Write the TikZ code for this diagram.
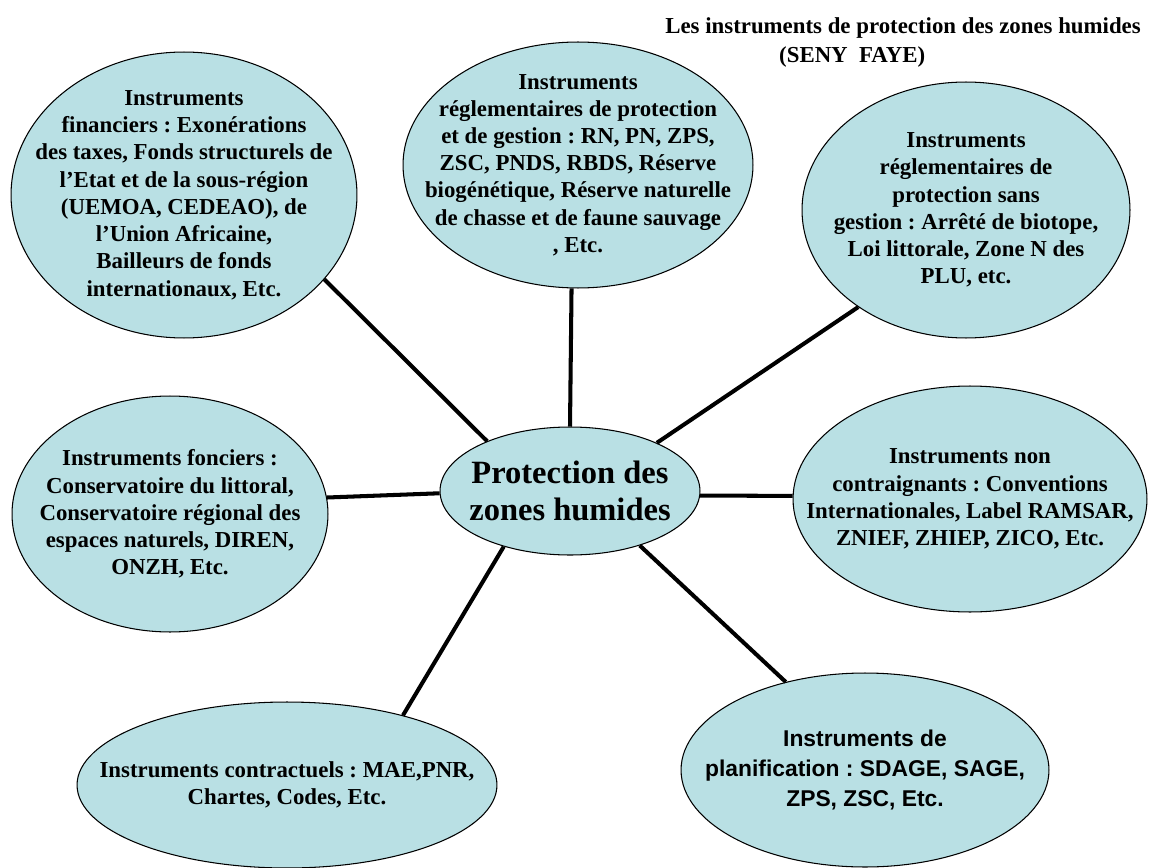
\documentclass[tikz,border=0pt]{standalone}
\usepackage{fontspec}
\setmainfont{Liberation Serif}
\setsansfont{Liberation Sans}
\usetikzlibrary{shapes.geometric}
\frenchspacing
\definecolor{bubblefill}{RGB}{185,224,228}
\tikzset{
  bubble/.style 2 args={ellipse,draw=black,line width=0.6pt,fill=bubblefill,inner sep=0pt,minimum width=#1,minimum height=#2},
  bubble text/.style={align=center,inner sep=0pt,font=\bfseries\fontsize{13}{15.5}\selectfont},
  link/.style={line width=2.3pt}
}

\begin{document}
\begin{tikzpicture}[x=0.02cm,y=-0.02cm]
	\useasboundingbox (0,0) rectangle (1149,868);

	% title, top right
	\node[font=\bfseries\fontsize{13}{15}\selectfont,anchor=base east] (title) at (1147,34) {Les instruments de protection des zones humides};
	\node[font=\bfseries\fontsize{13}{15}\selectfont,anchor=base west] (author) at (773,63) {(SENY~~FAYE)};

	% centre
	\node[bubble={5.2cm}{2.56cm},label={[bubble text,font=\bfseries\fontsize{18.5}{21.5}\selectfont]center:{Protection des\\zones humides}}] (ctr) at (570,491) {};

	% upper row
	\node[bubble={6.92cm}{5.72cm},label={[bubble text]center:{Instruments\\financiers : Exonérations\\des taxes, Fonds structurels de\\l’Etat et de la sous-région\\(UEMOA, CEDEAO), de\\l’Union Africaine,\\Bailleurs de fonds\\internationaux, Etc.}}] (fin) at (184,195) {};
	\node[bubble={7cm}{4.92cm},label={[bubble text]center:{Instruments\\réglementaires de protection\\et de gestion : RN, PN, ZPS,\\ZSC, PNDS, RBDS, Réserve\\biogénétique, Réserve naturelle\\de chasse et de faune sauvage\\, Etc.}}] (reggest) at (578,165) {};
	\node[bubble={6.56cm}{5.12cm},label={[bubble text]center:{Instruments\\réglementaires de\\protection sans\\gestion : Arrêté de biotope,\\Loi littorale, Zone N des\\PLU, etc.}}] (regsans) at (966,210) {};

	% middle row
	\node[bubble={6.32cm}{4.72cm},label={[bubble text]center:{Instruments fonciers :\\Conservatoire du littoral,\\Conservatoire régional des\\espaces naturels, DIREN,\\ONZH, Etc.}}] (fonc) at (170,514) {};
	\node[bubble={7.08cm}{4.52cm},label={[bubble text]center:{Instruments non\\contraignants : Conventions\\Internationales, Label RAMSAR,\\ZNIEF, ZHIEP, ZICO, Etc.}}] (noncontr) at (970,499) {};

	% lower row
	\node[bubble={8.4cm}{3.32cm},label={[bubble text]center:{Instruments contractuels : MAE,PNR,\\Chartes, Codes, Etc.}}] (contr) at (287,785) {};
	\node[bubble={7.36cm}{3.88cm},label={[bubble text,font=\sffamily\bfseries\fontsize{13}{17}\selectfont]center:{Instruments de\\planification : SDAGE, SAGE,\\ZPS, ZSC, Etc.}}] (plan) at (865,770) {};

	% spokes
	\draw[link] (fin.-31.4) -- (ctr.149.4);
	\draw[link] (reggest.-93.8) -- (ctr.90);
	\draw[link] (regsans.222.2) -- (ctr.29.6);
	\draw[link] (fonc.6.9) -- (ctr.181.8);
	\draw[link] (noncontr.179) -- (ctr.-2.2);
	\draw[link] (contr.31.6) -- (ctr.220.7);
	\draw[link] (plan.132.9) -- (ctr.-38.9);

\end{tikzpicture}
\end{document}
